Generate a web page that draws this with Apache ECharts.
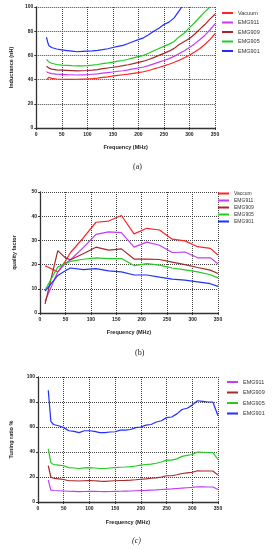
<!DOCTYPE html>
<html><head><meta charset="utf-8">
<script src="https://cdn.jsdelivr.net/npm/echarts@6/dist/echarts.min.js"></script>
<style>html,body{margin:0;padding:0;background:#fff}#c{width:272px;height:550px}</style>
</head><body><div id="c"></div>
<script>
// ---- Chart (a): Inductance ----
const freqA = [20,25,30,40,50,60,70,80,90,100,110,120,130,140,150,160,170,180,190,200,210,220,230,240,250,260,270,280,290,300,310,320,330,340,350];
const indVacuum = [39.7,42,41,40.5,40.3,40.2,40.2,40.3,40.4,40.5,40.8,41.2,41.8,42.3,43,43.5,44,44.5,45.2,45.8,46.5,47.5,48.8,50,51.3,52.7,54.3,56,58,60.2,62.8,65.5,69,73,78];
const indEMG911 = [46.5,45.5,45,44.6,44.3,44.1,44,43.8,43.9,44,44.4,44.8,45.3,45.8,46.3,46.9,47.3,48,48.8,49.6,50.4,51.5,53,54.4,55.8,57.3,59.2,61.5,63.8,66.5,69.5,73,76.5,81,86];
const indEMG909 = [51,49.5,48.7,48,47.8,47.6,47.4,47.2,47.3,47.5,47.8,48.3,49,49.6,50.2,50.8,51.5,52.3,53.2,54.2,55.2,56.6,58.2,60,61.7,63.5,65.8,69,71.5,74,77.5,81.5,85.5,90,94];
const indEMG905 = [56.7,54.5,53.5,52.5,52,51.8,51.5,51.3,51.4,51.6,52,52.5,53.2,53.8,54.5,55.2,55.8,56.8,58,59,60,61.8,63.8,65.7,67.5,69.3,71.5,75.5,78.5,83,87,91.5,96,100];
const freqA901 = [20,23,25,30,40,50,60,70,80,90,100,110,120,130,140,150,160,170,180,190,200,210,220,230,240,250,260,270,280,285];
const indEMG901 = [75,70,68,66.5,65.3,64.5,64,63.5,63,63.3,63.5,63.7,64.2,64.8,65.5,66.5,67.5,68.3,69.8,71.5,73,74.5,77,80,82.5,85.5,87.5,91,97,100];

// ---- Chart (b): Quality factor ----
const freqB = [10,35,50,60,85,110,135,160,185,210,235,260,285,310,335,350];
const qVaccum = [19.5,17,21.5,25,31,37.5,38,40.3,32.7,35,34.3,30.5,29.8,27.4,26.7,24];
const qEMG911 = [5,17,20.5,22,27,32.5,33.5,33.2,27.2,29.3,28,25,25.2,22.8,22.8,20.3];
const qEMG909 = [3.8,25.8,22.8,22,24.5,27.2,26,26.5,22.3,22.3,22.1,21,20,18.8,17.7,16.3];
const qEMG905 = [9.5,19,20.5,21.3,22.2,22.8,22.5,22.5,19.6,20.4,19.8,18.6,17.8,17,15.8,14.5];
const qEMG901 = [9,15.5,17.5,18.6,17.9,18.3,17.4,17,15.7,15.7,14.8,14,13.6,12.9,12.1,11];

// ---- Chart (c): Tuning ratio ----
const freqC = [20,25,30,40,50,60,70,80,90,100,110,120,130,140,150,160,170,180,190,200,210,220,230,240,250,260,270,280,290,300,310,320,330,340,350];
const trEMG911 = [17.5,9.5,9.2,9,8.8,8.6,8.5,8.3,8.4,8.5,8.5,8.4,8.3,8.4,8.5,8.6,8.7,8.8,9,9.2,9.3,9.5,9.7,10,10.3,10.5,10.8,11.1,11.4,11.7,12.2,12.1,12,12,10];
const trEMG909 = [29,20,19,18.5,18,17,17,16.8,17,17.2,17,16.7,16.5,16.8,17,17.2,17.3,17.5,17.8,18.2,18.5,19,19.3,20,21,21,21.8,22.8,23.3,23.8,25,24.8,24.8,24.8,21.5];
const trEMG905 = [42.5,31.5,30,29.5,29,27.5,27.2,26.8,27.3,27.5,27.2,26.8,26.8,27.2,27.5,27.8,28,28.3,28.8,29.5,30,30.3,31,32,33.5,33.5,34.5,36.5,37.3,38,40,39.8,39.6,39.5,34];
const trEMG901 = [89.3,64.5,62,61,59.5,57,56.5,55.5,57,57,56.5,55.5,55.5,56,56.2,57.5,57.5,58,59.5,60,61.5,62,64,65,67.5,68,70.5,74,75,77.5,81,80.5,80,80,69];

const C = {Vacuum:'#ff2424', EMG911:'#c13cf5', EMG909:'#a82828', EMG905:'#22cc22', EMG901:'#2030ff'};
const tickFont = {fontSize:5, fontWeight:'bold', color:'#222', fontFamily:'Liberation Sans'};
const nameFont = {fontSize:5.5, fontWeight:'bold', color:'#222', fontFamily:'Liberation Sans'};

function pairs(xs, ys){ return ys.map((y,i)=>[xs[i], y]); }
function xAx(gi, gap){ return {type:'value', gridIndex:gi, min:0, max:350, interval:50, name:'Frequency (MHz)', nameLocation:'middle', nameGap:gap, nameTextStyle:nameFont,
  axisLine:{lineStyle:{color:'#333', width:1.3}}, axisTick:{length:2, lineStyle:{color:'#333'}}, axisLabel:Object.assign({margin:4}, tickFont),
  splitLine:{show:true, lineStyle:{type:'dotted', color:'#444', width:1}}}; }
function yAx(gi, max, interval, name, gap){ return {type:'value', gridIndex:gi, min:0, max:max, interval:interval, name:name, nameLocation:'middle', nameGap:gap, nameTextStyle:nameFont,
  axisLine:{show:true, lineStyle:{color:'#333', width:1.3}}, axisTick:{show:true, length:2, lineStyle:{color:'#333'}}, axisLabel:Object.assign({margin:3}, tickFont),
  splitLine:{show:true, lineStyle:{type:'dotted', color:'#444', width:1}}}; }
function ser(name, gi, data, color){ return {name:name, type:'line', xAxisIndex:gi, yAxisIndex:gi, data:data, showSymbol:false, symbol:'none',
  lineStyle:{width:1.2, color:color}, itemStyle:{color:color}, clip:true}; }
function leg(names, left, top, gap, fs){ return {orient:'vertical', left:left, top:top, data:names, itemWidth:11, itemHeight:2, itemGap:gap, icon:'rect',
  textStyle:{fontSize:fs, color:'#333', fontFamily:'Liberation Sans', padding:[0,0,0,0]}, padding:0, selectedMode:false}; }

const option = {
  animation:false,
  title:[
    {text:'(a)', left:128, top:158, textStyle:{fontSize:8, fontWeight:'normal', fontFamily:'Liberation Serif', color:'#222'}},
    {text:'(b)', left:130, top:344, textStyle:{fontSize:8, fontWeight:'normal', fontFamily:'Liberation Serif', color:'#222'}},
    {text:'(c)', left:127, top:532, textStyle:{fontSize:8, fontWeight:'normal', fontStyle:'italic', fontFamily:'Liberation Serif', color:'#222'}}
  ],
  grid:[
    {left:35, top:7, width:180, height:121},
    {left:40, top:192, width:178, height:121},
    {left:31, top:377, width:187, height:125}
  ],
  xAxis:[xAx(0,16), xAx(1,16), xAx(2,17)],
  yAxis:[yAx(0,100,20,'Inductance (nH)',22), yAx(1,50,10,'quality factor',23), yAx(2,100,20,'Tuning ratio %',24)],
  legend:[
    leg(['Vacuum','EMG911','EMG909','EMG905','EMG901'], 222, 10, 3.5, 5.5),
    leg(['Vaccum','EMG911','EMG909','EMG905','EMG901'], 218, 191, 2, 5),
    leg(['EMG911','EMG909','EMG905','EMG901'], 227, 379, 4.5, 5.5)
  ],
  series:[
    ser('Vacuum',0,pairs(freqA,indVacuum),C.Vacuum),
    ser('EMG911',0,pairs(freqA,indEMG911),C.EMG911),
    ser('EMG909',0,pairs(freqA,indEMG909),C.EMG909),
    ser('EMG905',0,pairs(freqA,indEMG905),C.EMG905),
    ser('EMG901',0,pairs(freqA901,indEMG901),C.EMG901),
    ser('Vaccum',1,pairs(freqB,qVaccum),C.Vacuum),
    ser('EMG911',1,pairs(freqB,qEMG911),C.EMG911),
    ser('EMG909',1,pairs(freqB,qEMG909),C.EMG909),
    ser('EMG905',1,pairs(freqB,qEMG905),C.EMG905),
    ser('EMG901',1,pairs(freqB,qEMG901),C.EMG901),
    ser('EMG911',2,pairs(freqC,trEMG911),C.EMG911),
    ser('EMG909',2,pairs(freqC,trEMG909),C.EMG909),
    ser('EMG905',2,pairs(freqC,trEMG905),C.EMG905),
    ser('EMG901',2,pairs(freqC,trEMG901),C.EMG901)
  ]
};
const chart = echarts.init(document.getElementById('c'), null, {renderer:'canvas'});
chart.setOption(option);
</script></body></html>
